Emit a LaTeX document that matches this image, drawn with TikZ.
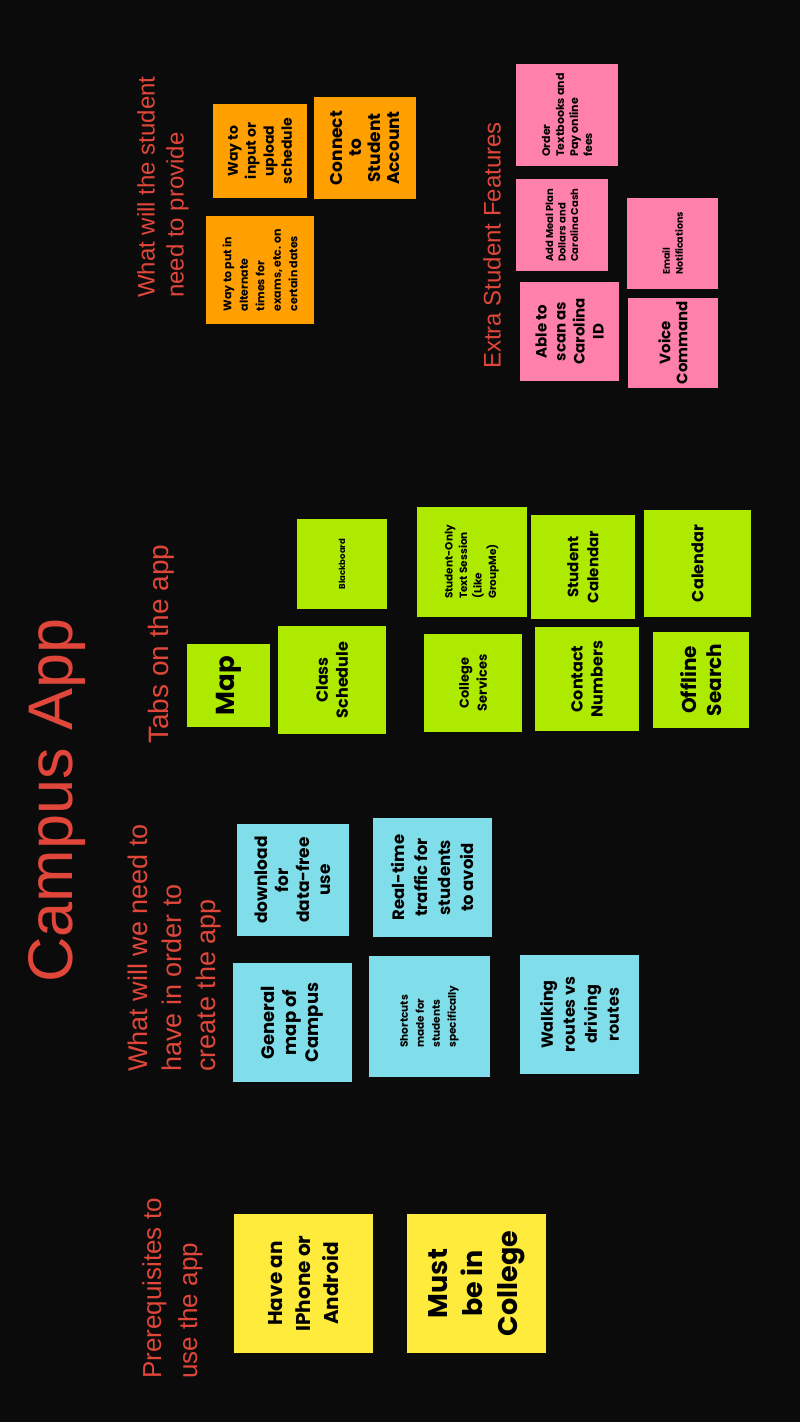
\documentclass[tikz,border=0pt]{standalone}
\usepackage{fontspec}
\setmainfont{Poppins}
\newfontfamily\headfont{Liberation Sans}

\definecolor{boardbg}{HTML}{0B0B0B}
\definecolor{headred}{HTML}{E0473A}
\definecolor{noteorange}{HTML}{FFA000}
\definecolor{notepink}{HTML}{FF80AB}
\definecolor{notelime}{HTML}{AEEA00}
\definecolor{notecyan}{HTML}{80DEEA}
\definecolor{noteyellow}{HTML}{FFEB3B}

\newcommand{\nsize}[2]{\fontsize{#1}{#2}\selectfont\bfseries}

\begin{document}
\begin{tikzpicture}[x=1pt, y=-1pt,
  note/.style={rotate=90, inner sep=0pt, align=center, text=black},
  ornote/.style={note, fill=noteorange},
  pknote/.style={note, fill=notepink},
  lmnote/.style={note, fill=notelime},
  cynote/.style={note, fill=notecyan},
  ylnote/.style={note, fill=noteyellow},
  heading/.style={rotate=90, inner sep=0pt, align=left, anchor=north west, text=headred}]

  % Board
  \fill[boardbg] (0,0) rectangle (800,1422);
  \useasboundingbox (0,0) rectangle (800,1422);

  % Headings
  \node[heading, font=\headfont\fontsize{63}{70}\selectfont] (title) at (28,983) {Campus App};
  \node[heading, font=\headfont\fontsize{26}{36}\selectfont] (prereq) at (142,1379) {Prerequisites to\\use the app};
  \node[heading, font=\headfont\fontsize{27}{34}\selectfont] (need) at (128,1072) {What will we need to\\have in order to\\create the app};
  \node[heading, font=\headfont\fontsize{28}{34}\selectfont] (tabs) at (148,744) {Tabs on the app};
  \node[heading, font=\headfont\fontsize{24}{29}\selectfont] (provide) at (137,298) {What will the student\\need to provide};
  \node[heading, font=\headfont\fontsize{24}{29}\selectfont] (extra) at (483,369) {Extra Student Features};

  % Prerequisites
  \node[ylnote, minimum size=139pt, font=\nsize{20}{28}] (phone) at (303.5,1283.5) {Have an\\IPhone or\\Android};
  \node[ylnote, minimum size=139pt, font=\nsize{27}{35}] (college) at (476.5,1283.5) {Must\\be in\\College};

  % What we need
  \node[cynote, minimum size=112pt, font=\nsize{17}{21}] (download) at (293,880) {download\\for\\data-free\\use};
  \node[cynote, minimum size=119pt, font=\nsize{16.5}{23}] (traffic) at (432.5,877.5) {Real-time\\traffic for\\students\\to avoid};
  \node[cynote, minimum size=119pt, font=\nsize{18}{22}] (general) at (292.5,1022.5) {General\\map of\\Campus};
  \node[cynote, minimum size=121pt, font=\nsize{10.5}{16}, align=left] (shortcuts) at (429.5,1016.5) {Shortcuts\\made for\\students\\specifically};
  \node[cynote, minimum size=119pt, font=\nsize{16}{22}] (walking) at (579.5,1014.5) {Walking\\routes vs\\driving\\routes};

  % Tabs
  \node[lmnote, minimum size=83pt, font=\nsize{26}{30}] (map) at (228.5,685.5) {Map};
  \node[lmnote, minimum size=108pt, font=\nsize{16}{20}] (schedule) at (332,680) {Class\\Schedule};
  \node[lmnote, minimum size=90pt, font=\nsize{8.5}{11}] (blackboard) at (342,564) {Blackboard};
  \node[lmnote, minimum size=98pt, font=\nsize{13}{18}] (services) at (473,683) {College\\Services};
  \node[lmnote, minimum size=110pt, font=\nsize{10.5}{14.5}, align=left] (groupme) at (472,562) {Student-Only\\Text Session\\(Like\\GroupMe)};
  \node[lmnote, minimum size=104pt, font=\nsize{16}{20}] (contacts) at (587,679) {Contact\\Numbers};
  \node[lmnote, minimum size=104pt, font=\nsize{15}{20}] (stucal) at (583,567) {Student\\Calendar};
  \node[lmnote, minimum size=96pt, font=\nsize{20}{25}] (offline) at (701,680) {Offline\\Search};
  \node[lmnote, minimum size=107pt, font=\nsize{16}{20}] (calendar) at (697.5,563.5) {Calendar};

  % What the student provides
  \node[ornote, minimum size=94pt, font=\nsize{14}{18}] (upload) at (260,151) {Way to\\input or\\upload\\schedule};
  \node[ornote, minimum size=102pt, font=\nsize{17}{19}] (account) at (365,148) {Connect\\to\\Student\\Account};
  \node[ornote, minimum size=108pt, font=\nsize{11}{16.5}, align=left] (alternate) at (260,270) {Way to put in\\alternate\\times for\\exams, etc. on\\certain dates};

  % Extra features
  \node[pknote, minimum size=102pt, font=\nsize{11}{14}, align=left] (textbooks) at (567,115) {Order\\Textbooks and\\Pay online\\fees};
  \node[pknote, minimum size=92pt, font=\nsize{10}{12.5}, align=left] (mealplan) at (562,225) {Add Meal Plan\\Dollars and\\Carolina Cash};
  \node[pknote, minimum size=99pt, font=\nsize{15}{19}] (cardid) at (569.5,331.5) {Able to\\scan as\\Carolina\\ID};
  \node[pknote, minimum size=91pt, font=\nsize{9.5}{13}, align=left] (email) at (672.5,243.5) {Email\\Notifications};
  \node[pknote, minimum size=90pt, font=\nsize{15}{17}] (voice) at (673,342.5) {Voice\\Command};
\end{tikzpicture}
\end{document}
